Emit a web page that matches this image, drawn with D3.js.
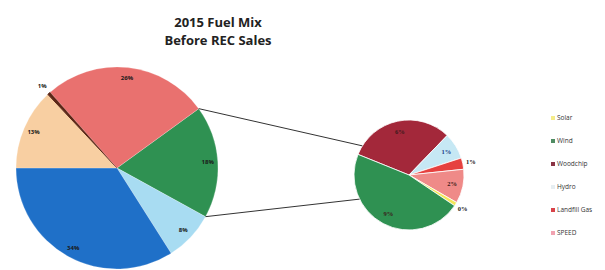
<!DOCTYPE html>
<html>
<head>
<meta charset="utf-8">
<script src="https://cdn.jsdelivr.net/npm/d3@7"></script>
<style>
  html, body { margin: 0; padding: 0; background: #fff; }
  svg { display: block; }
</style>
</head>
<body>
<div id="chart"></div>
<script>
// ---- data ----
const titleLines = ["2015 Fuel Mix", "Before REC Sales"];

// main pie (clockwise from the "Other" slice)
const mainCategories = ["Other Renewables", "Other A", "Other B", "Other C", "Other D", "Other E"];
const mainValues = [18, 8, 34, 13, 0.5, 26.5];
const mainLabels = ["18%", "8%", "34%", "13%", "1%", "26%"];

// secondary pie (breakdown of "Other Renewables")
const subCategories = ["Woodchip", "Hydro", "Landfill Gas", "SPEED", "Solar", "Wind"];
const subValues = [5.6, 1.4, 0.6, 1.8, 0.2, 8.4];
const subLabels = ["6%", "1%", "1%", "2%", "0%", "9%"];

const legendItems = ["Solar", "Wind", "Woodchip", "Hydro", "Landfill Gas", "SPEED"];

// ---- styles ----
const mainColors = ["#2f9152", "#a8dcf2", "#1f70c8", "#f8cfa2", "#5b2616", "#e9716f"];
const subColors = {
  "Woodchip": "#a3283a",
  "Hydro": "#c6e8f4",
  "Landfill Gas": "#e6413f",
  "SPEED": "#ef8a88",
  "Solar": "#f3e657",
  "Wind": "#2f9152"
};
const legendColors = {
  "Solar": "#f5ec8a",
  "Wind": "#4f8c63",
  "Woodchip": "#8a3344",
  "Hydro": "#e6eef2",
  "Landfill Gas": "#d8434a",
  "SPEED": "#f1a3b1"
};
const deg = Math.PI / 180;

const W = 605, H = 270;
const svg = d3.select("#chart").append("svg").attr("width", W).attr("height", H);

// title
svg.append("text")
  .attr("x", 218).attr("y", 27)
  .attr("text-anchor", "middle")
  .attr("font-family", "Open Sans, sans-serif")
  .attr("font-weight", "bold")
  .attr("font-size", 13)
  .attr("fill", "#222")
  .selectAll("tspan").data(titleLines).join("tspan")
  .attr("x", 218).attr("dy", (d, i) => i === 0 ? 0 : 18)
  .text(d => d);

// main pie
const mc = { x: 117, y: 168, r: 101 };
const mainPie = d3.pie().sort(null).value(d => d)
  .startAngle(54 * deg).endAngle(54 * deg + 2 * Math.PI);
const mainArcs = mainPie(mainValues);
const arcMain = d3.arc().innerRadius(0).outerRadius(mc.r);
const gMain = svg.append("g").attr("transform", `translate(${mc.x},${mc.y})`);
gMain.selectAll("path").data(mainArcs).join("path")
  .attr("d", arcMain)
  .attr("fill", (d, i) => mainColors[i])
  .attr("stroke", (d, i) => i === 4 ? "#5b2616" : "rgba(255,255,255,0.35)")
  .attr("stroke-width", (d, i) => i === 4 ? 1 : 0.6);

const labelArcIn = d3.arc().innerRadius(mc.r * 0.9).outerRadius(mc.r * 0.9);
const labelArcOut = d3.arc().innerRadius(mc.r * 1.1).outerRadius(mc.r * 1.1);
gMain.selectAll("text.lbl").data(mainArcs).join("text")
  .attr("class", "lbl")
  .attr("transform", (d, i) => `translate(${(i === 4 ? labelArcOut : labelArcIn).centroid(d)})`)
  .attr("text-anchor", "middle")
  .attr("dy", "0.35em")
  .attr("font-family", "Open Sans, sans-serif")
  .attr("font-weight", "bold")
  .attr("font-size", 6)
  .attr("fill", "#1a1a1a")
  .text((d, i) => mainLabels[i]);

// secondary pie
const sc = { x: 409, y: 175, r: 55 };
const subPie = d3.pie().sort(null).value(d => d)
  .startAngle(292 * deg).endAngle(292 * deg + 2 * Math.PI);
const subArcs = subPie(subValues);
const arcSub = d3.arc().innerRadius(0).outerRadius(sc.r);
const gSub = svg.append("g").attr("transform", `translate(${sc.x},${sc.y})`);
gSub.selectAll("path").data(subArcs).join("path")
  .attr("d", arcSub)
  .attr("fill", (d, i) => subColors[subCategories[i]])
  .attr("stroke", "#fff")
  .attr("stroke-width", 0.8);

const subIn = d3.arc().innerRadius(sc.r * 0.8).outerRadius(sc.r * 0.8);
const subOut = d3.arc().innerRadius(sc.r * 1.15).outerRadius(sc.r * 1.15);
const outsideSub = new Set(["Landfill Gas", "Solar"]);
gSub.selectAll("text.lbl").data(subArcs).join("text")
  .attr("class", "lbl")
  .attr("transform", (d, i) => `translate(${(outsideSub.has(subCategories[i]) ? subOut : subIn).centroid(d)})`)
  .attr("text-anchor", "middle")
  .attr("dy", "0.35em")
  .attr("font-family", "Liberation Serif, serif")
  .attr("font-weight", "bold")
  .attr("font-size", 6.5)
  .attr("fill", (d, i) => subCategories[i] === "Hydro" ? "#1d3f8a" : (outsideSub.has(subCategories[i]) ? "#222" : "#3a1a1a"))
  .text((d, i) => subLabels[i]);

// connector lines between the "Other" slice and the secondary pie
const other = mainArcs[0];
const ptMain = a => [mc.x + mc.r * Math.sin(a), mc.y - mc.r * Math.cos(a)];
const ptSub = a => [sc.x + sc.r * Math.sin(a), sc.y - sc.r * Math.cos(a)];
const connectors = [
  [ptMain(other.startAngle), ptSub(302 * deg)],
  [ptMain(other.endAngle), ptSub(244 * deg)]
];
svg.selectAll("line.conn").data(connectors).join("line")
  .attr("class", "conn")
  .attr("x1", d => d[0][0]).attr("y1", d => d[0][1])
  .attr("x2", d => d[1][0]).attr("y2", d => d[1][1])
  .attr("stroke", "#333").attr("stroke-width", 1);

// legend
const legY = d3.scalePoint().domain(legendItems).range([118, 233]);
const gLeg = svg.append("g");
const li = gLeg.selectAll("g").data(legendItems).join("g")
  .attr("transform", d => `translate(553,${legY(d)})`);
li.append("rect").attr("x", -2).attr("y", -2).attr("width", 4).attr("height", 4)
  .attr("fill", d => legendColors[d]);
li.append("text").attr("x", 4).attr("dy", "0.35em")
  .attr("font-family", "Open Sans, sans-serif")
  .attr("font-size", 6.5)
  .attr("fill", "#333")
  .text(d => d);
</script>
</body>
</html>
